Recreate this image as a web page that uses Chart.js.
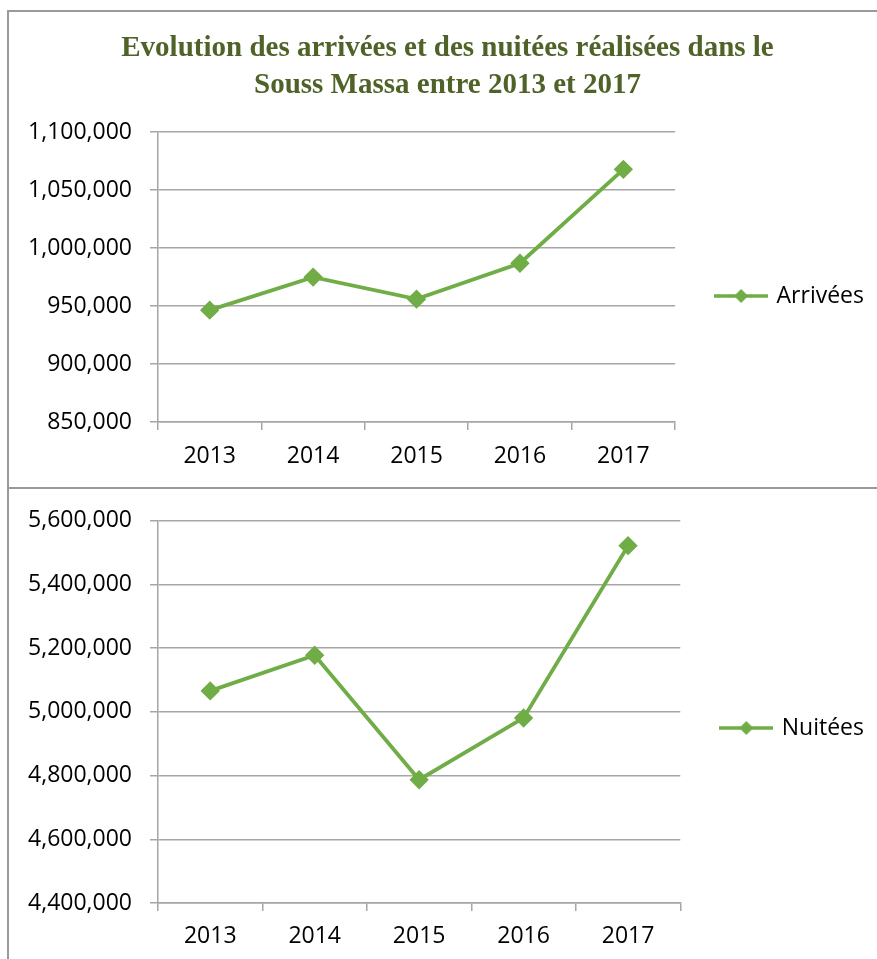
<!DOCTYPE html>
<html>
<head>
<meta charset="utf-8">
<script src="https://cdn.jsdelivr.net/npm/chart.js@4.4.0/dist/chart.umd.min.js"></script>
<style>
  html, body { margin: 0; padding: 0; background: #fff; overflow: hidden; }
  body { width: 877px; height: 959px; position: relative; }
  .line { position: absolute; background: #9a9a9a; }
  .box { position: absolute; }
</style>
</head>
<body>
<div class="line" style="left:7px; top:10px; width:870px; height:2px;"></div>
<div class="line" style="left:7px; top:10px; width:2px; height:949px;"></div>
<div class="line" style="left:7px; top:487px; width:870px; height:2px;"></div>

<div class="box" style="left:9px; top:12px; width:868px; height:475px;">
  <canvas id="arrivees"></canvas>
</div>
<div class="box" style="left:9px; top:489px; width:868px; height:470px;">
  <canvas id="nuitees"></canvas>
</div>

<script>
// Données
const years = ["2013", "2014", "2015", "2016", "2017"];
const arrivees = [946500, 975000, 956000, 987000, 1068000];
const nuitees = [5066000, 5178000, 4787000, 4981000, 5522000];

const titleLines = [
  "Evolution des arrivées et des nuitées réalisées dans le",
  "Souss Massa entre 2013 et 2017"
];

const green = "#70AD47";
const gridColor = "#a6a6a6";
const labelFont = { family: "'Open Sans', sans-serif", size: 23 };

// icône de légende : trait avec losange
function legendIcon() {
  const c = document.createElement("canvas");
  c.width = 54;
  c.height = 16;
  const g = c.getContext("2d");
  g.strokeStyle = green;
  g.lineWidth = 3.5;
  g.beginPath();
  g.moveTo(0, 8);
  g.lineTo(54, 8);
  g.stroke();
  g.fillStyle = green;
  g.beginPath();
  g.moveTo(27, 1);
  g.lineTo(34, 8);
  g.lineTo(27, 15);
  g.lineTo(20, 8);
  g.closePath();
  g.fill();
  return c;
}

// place la légende à une hauteur donnée (centre vertical)
const legendCenter = {
  id: "legendCenter",
  afterLayout(chart, args, opts) {
    const l = chart.legend;
    if (!l || opts.y == null) return;
    const dy = opts.y - (l.top + l.bottom) / 2;
    l.top += dy;
    l.bottom += dy;
  },
};

function makeChart(id, label, values, yMin, yMax, step, opts) {
  const ctx = document.getElementById(id).getContext("2d");
  return new Chart(ctx, {
    type: "line",
    data: {
      labels: years,
      datasets: [
        {
          label: label,
          data: values,
          borderColor: green,
          backgroundColor: green,
          borderWidth: 3.8,
          tension: 0,
          pointStyle: "rectRot",
          pointRadius: 7,
          pointHoverRadius: 7,
        },
      ],
    },
    plugins: [legendCenter],
    options: {
      responsive: true,
      maintainAspectRatio: false,
      animation: false,
      events: [],
      layout: { padding: opts.padding },
      scales: {
        x: {
          offset: true,
          grid: {
            offset: true,
            drawOnChartArea: false,
            drawTicks: true,
            tickLength: 8,
            color: gridColor,
            lineWidth: 1.5,
          },
          border: { color: gridColor, width: 1.5 },
          ticks: {
            color: "#000",
            font: labelFont,
            padding: opts.xPad,
            maxRotation: 0,
          },
          afterFit: function (scale) {
            scale.height = opts.xHeight;
          },
        },
        y: {
          min: yMin,
          max: yMax,
          grid: {
            color: gridColor,
            lineWidth: 1.5,
            tickLength: 8,
          },
          border: { color: gridColor, width: 1.5 },
          ticks: {
            stepSize: step,
            color: "#000",
            font: labelFont,
            padding: 18,
            callback: function (v) {
              return Number(v).toLocaleString("en-US");
            },
          },
          afterFit: function (scale) {
            scale.width = 137;
          },
        },
      },
      plugins: {
        title: opts.title
          ? {
              display: true,
              text: titleLines,
              color: "#4F6228",
              font: {
                family: "'Liberation Serif', 'Times New Roman', serif",
                size: 29,
                weight: "bold",
                lineHeight: 1.28,
              },
              padding: { top: 18, bottom: 28 },
            }
          : { display: false },
        legend: {
          position: "right",
          labels: {
            usePointStyle: true,
            pointStyle: legendIcon(),
            pointStyleWidth: 48,
            padding: opts.legendPad,
            color: "#000",
            font: labelFont,
          },
        },
        legendCenter: { y: opts.legendY },
        tooltip: { enabled: false },
      },
    },
  });
}

makeChart("arrivees", "Arrivées", arrivees, 850000, 1100000, 50000, {
  title: true,
  padding: { left: 12, right: 3, top: 0, bottom: 0 },
  xHeight: 65,
  xPad: 13,
  legendPad: 42,
  legendY: 284,
});

makeChart("nuitees", "Nuitées", nuitees, 4400000, 5600000, 200000, {
  title: false,
  padding: { left: 12, right: 3, top: 29, bottom: 0 },
  xHeight: 56,
  xPad: 12,
  legendPad: 42,
  legendY: 239,
});
</script>
</body>
</html>
